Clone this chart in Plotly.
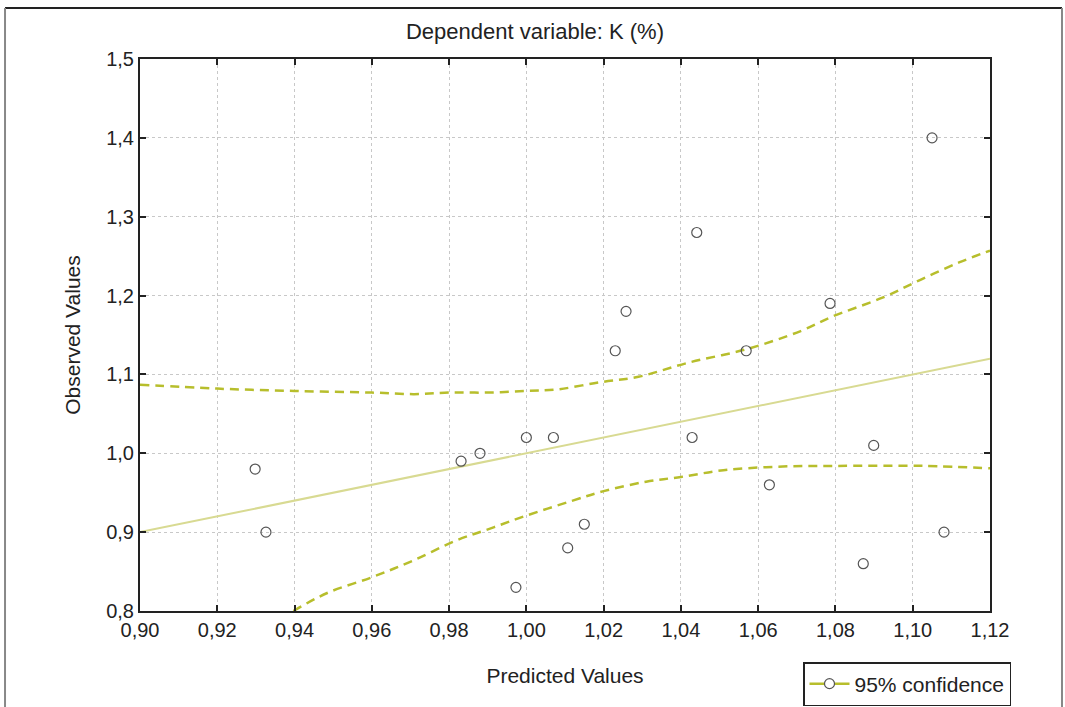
import plotly.graph_objects as go

# ---- data ----
predicted = [0.9298, 0.9326, 0.9831, 0.9880, 0.9973, 1.0000, 1.0070, 1.0107, 1.0150, 1.0230,
             1.0258, 1.0441, 1.0429, 1.0569, 1.0629, 1.0786, 1.0872, 1.0899, 1.1050, 1.1081]
observed = [0.98, 0.90, 0.99, 1.00, 0.83, 1.02, 1.02, 0.88, 0.91, 1.13,
            1.18, 1.28, 1.02, 1.13, 0.96, 1.19, 0.86, 1.01, 1.40, 0.90]

fit_x = [0.90, 1.12]
fit_y = [0.90, 1.12]

upper_x = [0.900, 0.920, 0.940, 0.960, 0.971, 0.980, 0.990, 1.000, 1.008, 1.019, 1.029,
           1.042, 1.057, 1.071, 1.079, 1.092, 1.102, 1.112, 1.120]
upper_y = [1.087, 1.082, 1.079, 1.077, 1.075, 1.077, 1.077, 1.079, 1.081, 1.090, 1.097,
           1.115, 1.132, 1.155, 1.173, 1.197, 1.220, 1.242, 1.257]

lower_x = [0.9397, 0.9483, 0.9604, 0.9707, 0.982, 0.9906, 1.000, 1.012, 1.020, 1.031,
           1.040, 1.051, 1.065, 1.080, 1.103, 1.120]
lower_y = [0.800, 0.8225, 0.8435, 0.864, 0.8897, 0.9045, 0.921, 0.940, 0.952, 0.964,
           0.970, 0.9785, 0.983, 0.984, 0.984, 0.981]

x_ticks = [0.90, 0.92, 0.94, 0.96, 0.98, 1.00, 1.02, 1.04, 1.06, 1.08, 1.10, 1.12]
x_tick_text = ["0,90", "0,92", "0,94", "0,96", "0,98", "1,00", "1,02", "1,04", "1,06", "1,08", "1,10", "1,12"]
y_ticks = [0.8, 0.9, 1.0, 1.1, 1.2, 1.3, 1.4, 1.5]
y_tick_text = ["0,8", "0,9", "1,0", "1,1", "1,2", "1,3", "1,4", "1,5"]

BAND = "#b7be2c"
FIT = "#d8da92"
FONT = "Liberation Sans, Arial, sans-serif"
TXT = "#222222"

W, H = 1065, 707

fig = go.Figure()
fig.add_trace(go.Scatter(x=fit_x, y=fit_y, mode="lines", line=dict(color=FIT, width=2),
                         showlegend=False, hoverinfo="skip"))
fig.add_trace(go.Scatter(x=upper_x, y=upper_y, mode="lines",
                         line=dict(color=BAND, width=2.5, dash="9px,6px", shape="spline"),
                         showlegend=False))
fig.add_trace(go.Scatter(x=lower_x, y=lower_y, mode="lines",
                         line=dict(color=BAND, width=2.5, dash="9px,6px", shape="spline"),
                         showlegend=False))
fig.add_trace(go.Scatter(x=predicted, y=observed, mode="markers",
                         marker=dict(symbol="circle-open", size=10, color="#555555",
                                     line=dict(width=1.2, color="#555555")),
                         showlegend=False))
# legend entry
fig.add_trace(go.Scatter(x=[None], y=[None], mode="lines+markers", name="95% confidence",
                         line=dict(color=BAND, width=2.5),
                         marker=dict(symbol="circle", size=10, color="white",
                                     line=dict(width=1.2, color="#555555"))))

axis_common = dict(showline=True, linecolor="#222222", linewidth=2, mirror="ticks",
                   ticks="inside", ticklen=6, tickwidth=2, tickcolor="#222222",
                   showgrid=True, gridcolor="#c8c8c8", gridwidth=1, griddash="dot",
                   zeroline=False, tickfont=dict(family=FONT, size=20, color=TXT))

fig.update_xaxes(range=[0.90, 1.12], tickvals=x_ticks, ticktext=x_tick_text,
                 title=dict(text="Predicted Values", font=dict(family=FONT, size=21, color=TXT),
                            standoff=28), **axis_common)
fig.update_yaxes(range=[0.8, 1.5], tickvals=y_ticks, ticktext=y_tick_text,
                 title=dict(text="Observed Values", font=dict(family=FONT, size=21, color=TXT),
                            standoff=20), **axis_common)

# outer frame (pixel positions converted to paper coords of the 850x552 plot area)
fig.add_shape(type="line", xref="paper", yref="paper", x0=-0.1588, x1=1.0847, y0=1.0924, y1=1.0924,
              line=dict(color="#222222", width=2))
fig.add_shape(type="line", xref="paper", yref="paper", x0=-0.1588, x1=-0.1588, y0=1.0924, y1=-0.2,
              line=dict(color="#888888", width=2))
fig.add_shape(type="line", xref="paper", yref="paper", x0=1.0847, x1=1.0847, y0=1.0924, y1=-0.2,
              line=dict(color="#888888", width=2))

fig.update_layout(
    width=W, height=H,
    margin=dict(l=140, r=75, t=59, b=96, autoexpand=False),
    paper_bgcolor="white", plot_bgcolor="white",
    title=dict(text="Dependent variable: K (%)", x=535 / W, xref="container", xanchor="center",
               y=1 - 31 / H, yanchor="middle", font=dict(family=FONT, size=22, color=TXT)),
    legend=dict(x=0.78, y=-0.0924, xanchor="left", yanchor="top", bgcolor="white",
                bordercolor="#222222", borderwidth=1.5, itemwidth=40,
                font=dict(family=FONT, size=21, color=TXT)),
    showlegend=True,
)

fig.write_html("out.html", config={"displayModeBar": False},
               post_script="document.body.style.margin='0';document.body.style.overflow='hidden';")
